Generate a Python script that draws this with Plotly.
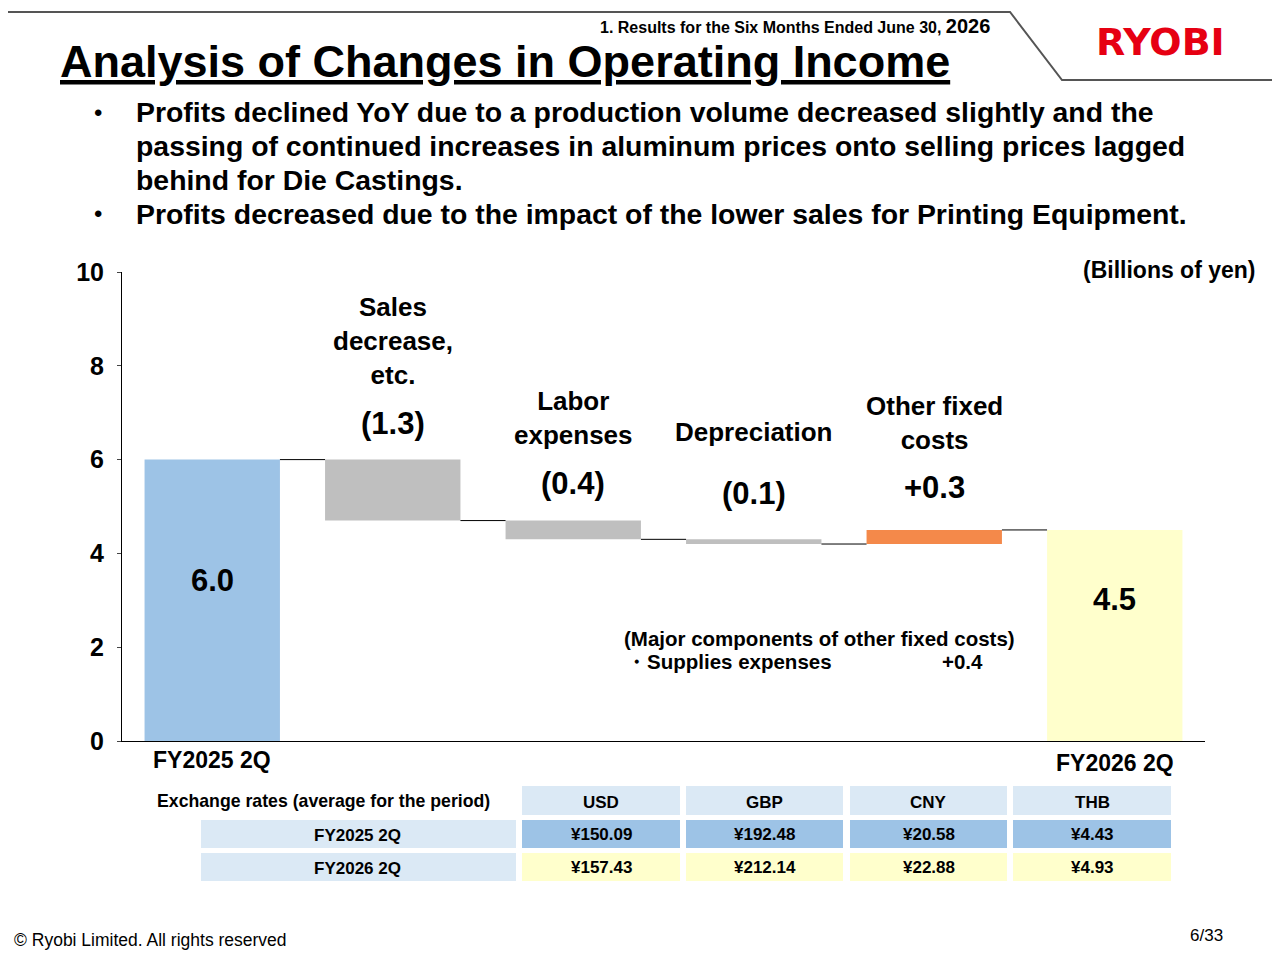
import plotly.graph_objects as go

# data
categories = ["FY2025 2Q", "Sales decrease, etc.", "Labor expenses", "Depreciation", "Other fixed costs", "FY2026 2Q"]
start_value = 6.0
deltas = [-1.3, -0.4, -0.1, 0.3]
end_value = 4.5
delta_labels = ["(1.3)", "(0.4)", "(0.1)", "+0.3"]
step_names = ["Sales<br>decrease,<br>etc.", "Labor<br>expenses", "Depreciation", "Other fixed<br>costs"]
bar_colors = ["#9dc3e6", "#bfbfbf", "#bfbfbf", "#bfbfbf", "#f4894a", "#ffffcc"]

currencies = ["USD", "GBP", "CNY", "THB"]
rate_rows = ["FY2025 2Q", "FY2026 2Q"]
rates_2025 = ["¥150.09", "¥192.48", "¥20.58", "¥4.43"]
rates_2026 = ["¥157.43", "¥212.14", "¥22.88", "¥4.93"]

FONT = "Liberation Sans"
W, H = 1264, 944
OFF = 8
px = lambda v: (v - OFF) / W
py = lambda v: 1 - (v - OFF) / H

# waterfall bases
bases, heights, level = [0], [start_value], start_value
levels = [start_value]
for d in deltas:
    new = level + d
    bases.append(min(level, new))
    heights.append(abs(d))
    level = new
    levels.append(level)
bases.append(0)
heights.append(end_value)
levels.append(end_value)

xs = list(range(len(categories)))
fig = go.Figure()
fig.add_trace(go.Bar(x=xs, y=heights, base=bases, marker_color=bar_colors, width=0.75,
                     marker_line_width=0, hoverinfo="skip"))

# connectors
cx, cy = [], []
for i in range(len(xs) - 1):
    lv = levels[i]
    cx += [i + 0.375, i + 1 - 0.375, None]
    cy += [lv, lv, None]
fig.add_trace(go.Scatter(x=cx, y=cy, mode="lines", line=dict(color="black", width=1), hoverinfo="skip"))

fig.update_layout(
    width=W, height=H, margin=dict(l=0, r=0, t=0, b=0, autoexpand=False),
    plot_bgcolor="white", paper_bgcolor="white", showlegend=False,
    font=dict(family=FONT, color="black"),
    xaxis=dict(domain=[px(122), px(1205)], range=[-0.5, 5.5], showticklabels=False,
               showgrid=False, zeroline=False, showline=True, linecolor="black"),
    yaxis=dict(domain=[py(741), py(272)], range=[0, 10], dtick=2, showgrid=False, zeroline=False,
               showline=True, linecolor="black", ticks="outside", ticklen=4,
               tickfont=dict(size=25, family=FONT), ticklabelstandoff=8,
               tickvals=[0, 2, 4, 6, 8, 10], ticktext=["<b>%d</b>" % v for v in [0, 2, 4, 6, 8, 10]]),
)

ann = []
def T(text, x, y, size, xanchor="center", yanchor="middle", color="black", ref="paper", family=FONT):
    ann.append(dict(text=text, x=x, y=y, xref=ref if ref == "paper" else "x", yref="paper",
                    xanchor=xanchor, yanchor=yanchor, showarrow=False,
                    font=dict(size=size, family=family, color=color)))

# header
T("<b>1. Results for the Six Months Ended June 30, </b><b><span style='font-size:20px'>2026</span></b>", px(992), py(26), 16, "right")
T("<b><u>Analysis of Changes in Operating Income</u></b>", px(58), py(62), 45, "left")
T("<b>RYOBI</b>", px(1160), py(42), 38, color="#e60012", family="DejaVu Sans")
bul = [("Profits declined YoY due to a production volume decreased slightly and the", 112),
       ("passing of continued increases in aluminum prices onto selling prices lagged", 146),
       ("behind for Die Castings.", 180),
       ("Profits decreased due to the impact of the lower sales for Printing Equipment.", 214)]
for t, y in bul:
    T("<b>%s</b>" % t, px(134), py(y), 28.4, "left")
T("•", px(98), py(112), 24)
T("•", px(98), py(214), 24)
T("<b>(Billions of yen)</b>", px(1258), py(270), 23, "right")

# bar labels
T("<b>6.0</b>", 0, py(580), 31, ref="x")
T("<b>4.5</b>", 5, py(599), 31, ref="x")
T("<b>FY2025 2Q</b>", 0, py(760), 23, ref="x")
T("<b>FY2026 2Q</b>", 5, py(763), 23, ref="x")
name_y = [(341, 424), (418, 483), (432, 494), (423, 487)]
for i, (n, d) in enumerate(zip(step_names, delta_labels)):
    T("<b>%s</b>" % n, i + 1, py(name_y[i][0]), 26, ref="x")
    T("<b>%s</b>" % d, i + 1, py(name_y[i][1]), 31, ref="x")
T("<b>(Major components of other fixed costs)</b>", px(622), py(638), 20.5, "left")
T("<b>・Supplies expenses</b>", px(624), py(661), 20.5, "left")
T("<b>+0.4</b>", px(985), py(661), 20.5, "right")

# table
shapes = []
def cell(x0, x1, y0, y1, color):
    shapes.append(dict(type="rect", xref="paper", yref="paper", x0=px(x0), x1=px(x1),
                       y0=py(y1), y1=py(y0), fillcolor=color, line_width=0, layer="below"))
cols = [(522, 680), (686, 843), (850, 1007), (1013, 1171)]
T("<b>Exchange rates (average for the period)</b>", px(155), py(801), 17.7, "left")
for (x0, x1), c, r1, r2 in zip(cols, currencies, rates_2025, rates_2026):
    cell(x0, x1, 786, 815, "#dbe9f5")
    cell(x0, x1, 820, 848, "#9dc3e6")
    cell(x0, x1, 853, 881, "#ffffcc")
    T("<b>%s</b>" % c, px((x0 + x1) / 2), py(802), 17)
    T("<b>%s</b>" % r1, px((x0 + x1) / 2), py(834), 17)
    T("<b>%s</b>" % r2, px((x0 + x1) / 2), py(867), 17)
for r, (y0, y1) in zip(rate_rows, [(820, 848), (853, 881)]):
    cell(201, 516, y0, y1, "#dbe9f5")
    T("<b>%s</b>" % r, px(358), py((y0 + y1) / 2 + 1), 17)

# footer
T("© Ryobi Limited. All rights reserved", px(12), py(940), 17.5, "left")
T("6/33", px(1225), py(935), 17, "right")

# top decorative line
shapes.append(dict(type="path", xref="paper", yref="paper",
                   path="M %f %f L %f %f L %f %f L 1 %f" % (px(0), py(12), px(1010), py(12), px(1062), py(80), py(80)),
                   line=dict(color="#555555", width=2)))

fig.update_layout(annotations=ann, shapes=shapes)
fig.write_html("out.html")
